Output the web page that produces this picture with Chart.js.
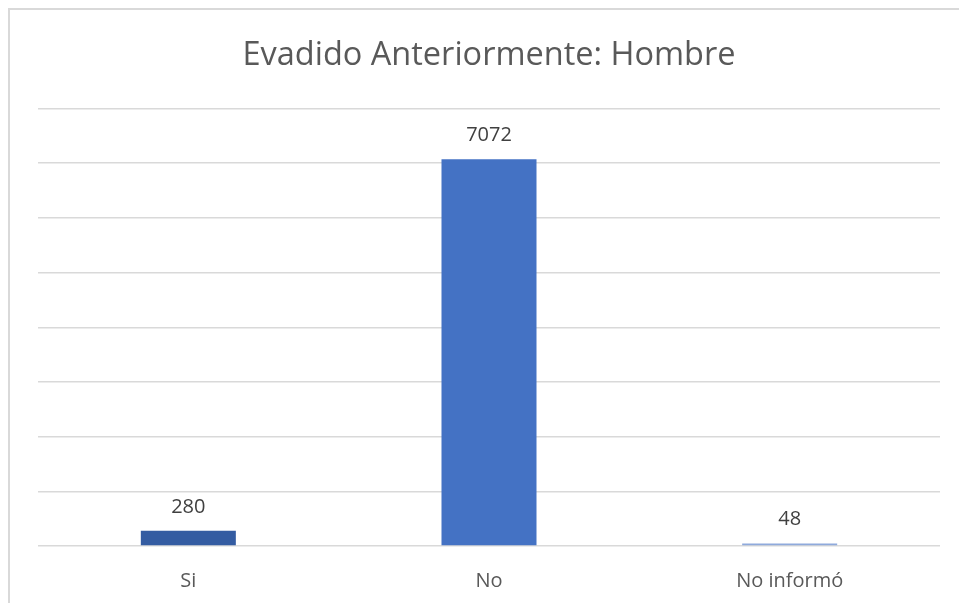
<!DOCTYPE html>
<html>
<head>
<meta charset="utf-8">
<script src="https://cdn.jsdelivr.net/npm/chart.js@4.4.1/dist/chart.umd.min.js"></script>
<style>
  html, body { margin: 0; padding: 0; background: #fff; }
  #wrap { width: 959px; height: 603px; }
</style>
</head>
<body>
<div id="wrap"><canvas id="grafico" width="959" height="603"></canvas></div>
<script>
// dados do grafico
const categorias = ['Si', 'No', 'No informó'];
const valores = [280, 7072, 48];
const cores = ['#345CA2', '#4472C4', '#8FAADC'];
const titulo = 'Evadido Anteriormente: Hombre';
const fonte = '"Open Sans", "Noto Sans", sans-serif';

// borda do quadro do grafico (cortada na direita e embaixo)
const bordaPlugin = {
    id: 'borda',
    beforeDraw(chart) {
        const c = chart.ctx;
        c.save();
        c.strokeStyle = '#d9d9d9';
        c.lineWidth = 2;
        c.beginPath();
        c.moveTo(9, chart.height);
        c.lineTo(9, 9);
        c.lineTo(chart.width, 9);
        c.stroke();
        c.restore();
    }
};

// rotulos com os valores em cima das barras
const rotulosPlugin = {
    id: 'rotulos',
    afterDatasetsDraw(chart) {
        const c = chart.ctx;
        const meta = chart.getDatasetMeta(0);
        c.save();
        c.font = '20px ' + fonte;
        c.fillStyle = '#404040';
        c.textAlign = 'center';
        c.textBaseline = 'alphabetic';
        meta.data.forEach((bar, i) => {
            c.fillText(String(valores[i]), bar.x, bar.y - 18);
        });
        c.restore();
    }
};

const ctx = document.getElementById('grafico').getContext('2d');
new Chart(ctx, {
    type: 'bar',
    data: {
        labels: categorias,
        datasets: [{
            data: valores,
            backgroundColor: cores,
            borderWidth: 0,
            categoryPercentage: 1,
            barPercentage: 0.316
        }]
    },
    options: {
        responsive: false,
        animation: false,
        layout: { padding: { left: 38, right: 19, top: 0, bottom: 7 } },
        plugins: {
            legend: { display: false },
            tooltip: { enabled: false },
            title: {
                display: true,
                text: titulo,
                color: '#595959',
                font: { family: fonte, size: 32.5, weight: 'normal' },
                padding: { top: 36.5, bottom: 33 }
            }
        },
        scales: {
            x: {
                grid: { display: false },
                border: { display: false },
                ticks: {
                    color: '#595959',
                    font: { family: fonte, size: 20 },
                    padding: 15
                },
                afterFit(scale) { scale.height = 50; }
            },
            y: {
                min: 0,
                max: 8000,
                ticks: { stepSize: 1000, display: false },
                grid: { color: '#d9d9d9', lineWidth: 1.5, drawTicks: false },
                border: { display: false }
            }
        }
    },
    plugins: [bordaPlugin, rotulosPlugin]
});
</script>
</body>
</html>
